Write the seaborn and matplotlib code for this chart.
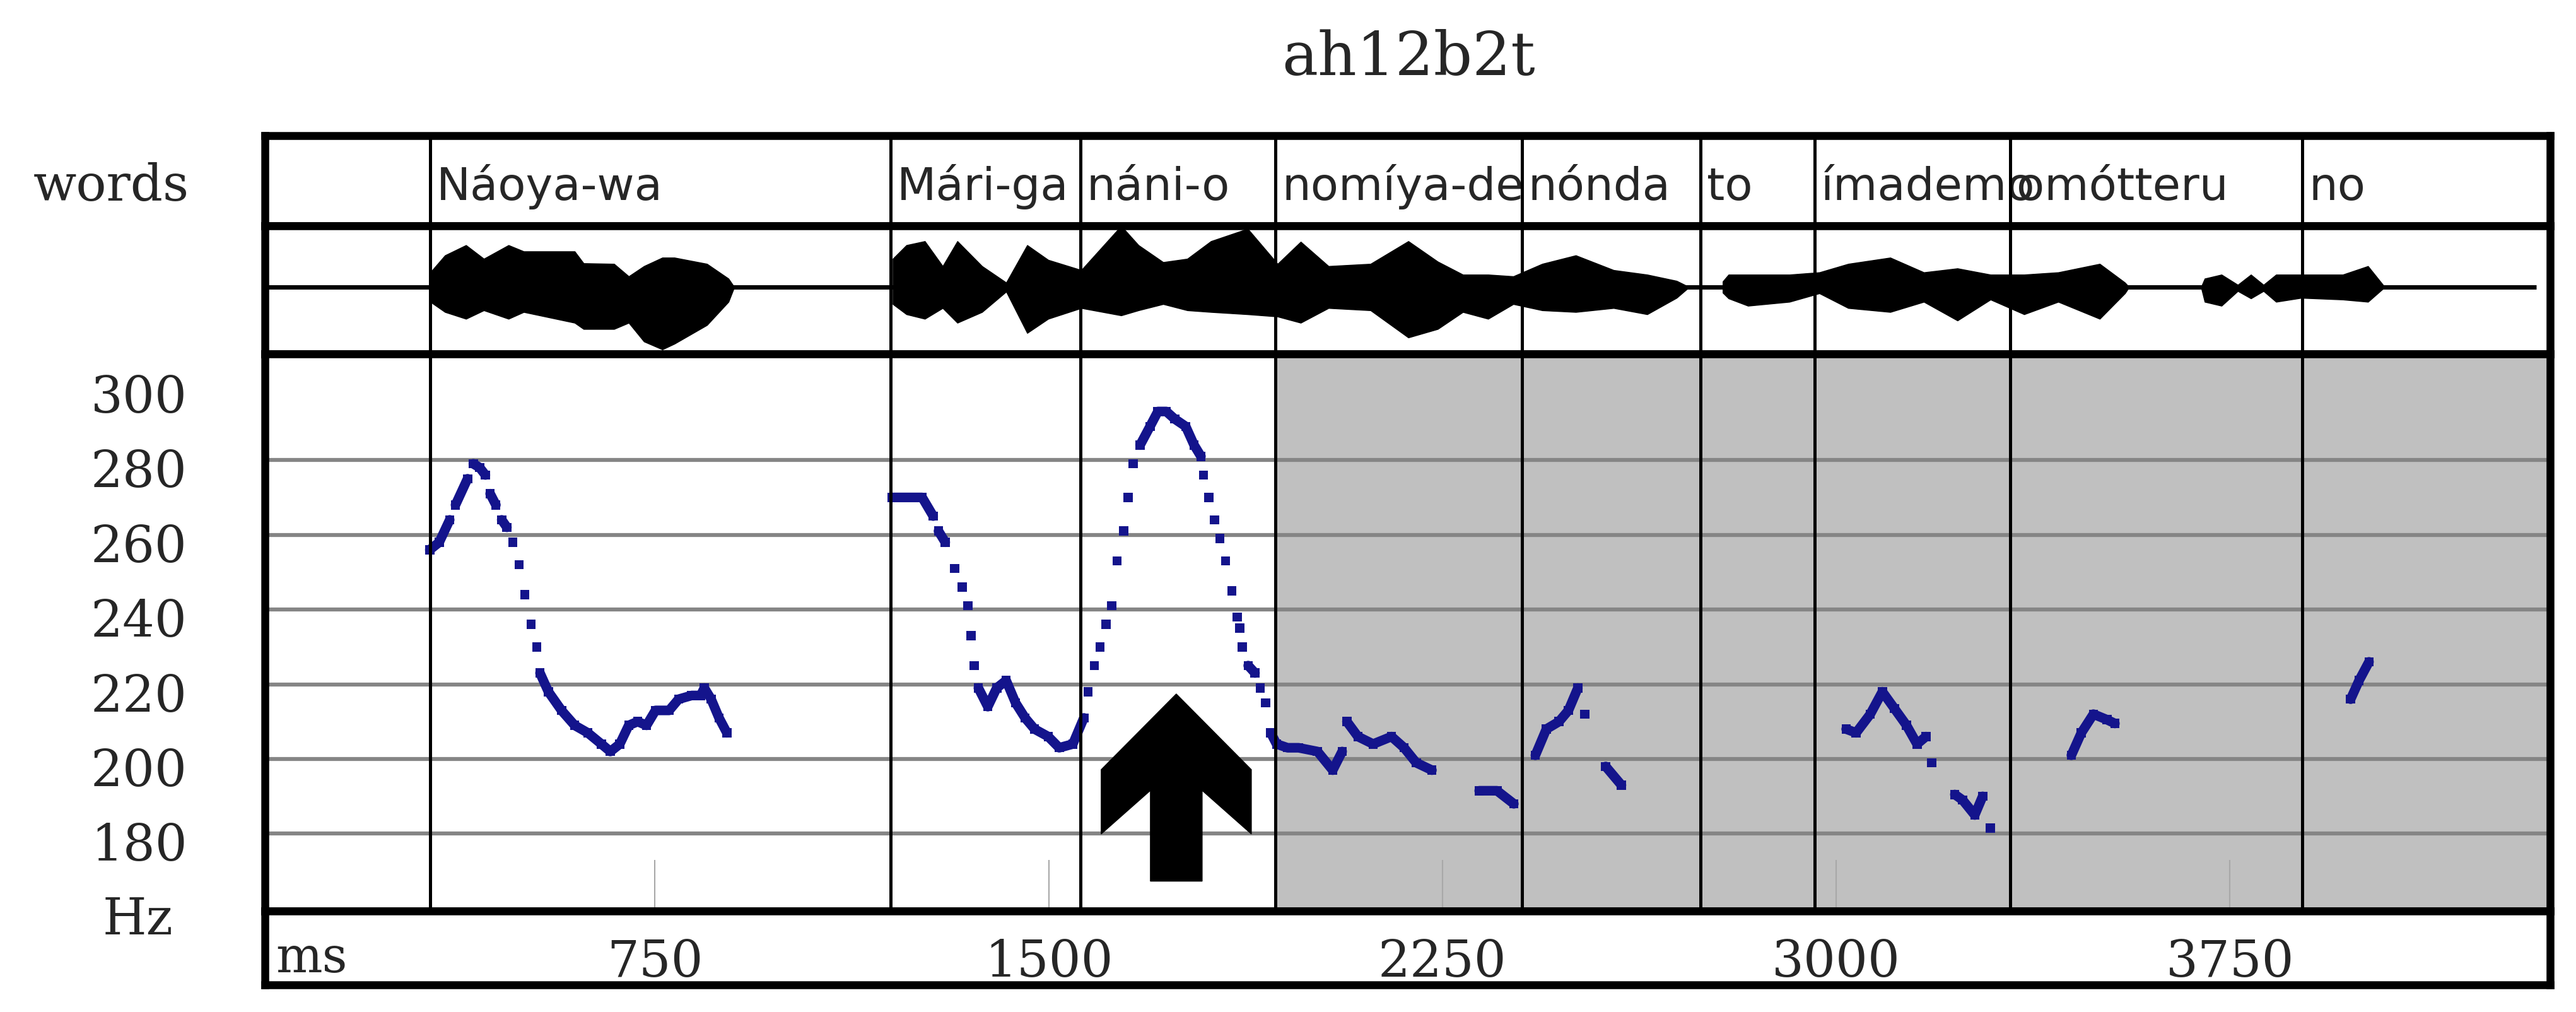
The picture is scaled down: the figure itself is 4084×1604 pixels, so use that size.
import pandas as pd
import seaborn as sns
import matplotlib.pyplot as plt
from matplotlib.patches import Polygon
from matplotlib.transforms import blended_transform_factory, offset_copy

# word segmentation (start of each word in ms)
words = ['Náoya-wa', 'Mári-ga', 'náni-o', 'nomíya-de', 'nónda', 'to', 'ímademo', 'omótteru', 'no']
word_starts = [322, 1199, 1560, 1932, 2401, 2741, 2959, 3331, 3888]
recording_end_ms = 4333

time_ticks = [750, 1500, 2250, 3000, 3750]
hz_ticks = [180, 200, 220, 240, 260, 280, 300]

# F0 tracks (ms, Hz)
f0_naoya_t = [321, 339, 359, 370, 393, 404, 416, 427, 436, 447, 458, 468, 479, 491, 502, 514, 525, 531, 547, 572,
              597, 622, 648, 665, 683, 700, 717, 734, 751, 777, 795, 820, 837, 844, 857, 872, 887]
f0_naoya_hz = [256, 258, 264, 268, 275, 279, 278, 276, 271, 268, 264, 262, 258, 252, 244, 236, 230, 223, 218, 213,
               209, 207, 204, 202, 204, 209, 210, 209, 213, 213, 216, 217, 217, 219, 216, 211, 207]

f0_mari_t = [1202, 1230, 1259, 1280, 1290, 1303, 1321, 1335, 1346, 1352, 1358, 1366, 1384, 1401, 1419, 1437, 1455,
             1473, 1499, 1520, 1546, 1567, 1575, 1587, 1598, 1609, 1620, 1630, 1643, 1651, 1661, 1674, 1693, 1708,
             1724, 1740, 1761, 1777, 1790, 1795, 1805, 1816, 1826, 1837, 1849, 1859, 1864, 1869, 1880, 1893, 1903,
             1913, 1923, 1934, 1955, 1976, 2012, 2041, 2059, 2068, 2089, 2118, 2153, 2177, 2200, 2230]
f0_mari_hz = [270, 270, 270, 265, 261, 258, 251, 246, 241, 233, 225, 219, 214, 219, 221, 215, 211,
              208, 206, 203, 204, 211, 218, 225, 230, 236, 241, 253, 261, 270, 279, 284, 289, 293,
              293, 291, 289, 284, 281, 276, 270, 264, 259, 253, 245, 238, 235, 230, 225, 223, 219,
              215, 207, 204, 203, 203, 202, 197, 202, 210, 206, 204, 206, 203, 199, 197]

f0_nomiya_t = [2320, 2354, 2386]
f0_nomiya_hz = [191.5, 191.5, 188]

f0_nonda_t = [2427, 2448, 2472, 2490, 2508, 2521, 2561, 2591]
f0_nonda_hz = [201, 208, 210, 213, 219, 212, 198, 193]

f0_imademo_t = [3019, 3038, 3065, 3088, 3111, 3134, 3154, 3171, 3182, 3226, 3241, 3264, 3279, 3294]
f0_imademo_hz = [208, 207, 212, 218, 213.5, 209, 204, 206, 199, 190.5, 189, 185, 190, 181.5]

f0_omotteru_t = [3448, 3467, 3490, 3516, 3531]
f0_omotteru_hz = [201, 207, 212, 210.5, 209.5]

f0_no_t = [3980, 3996, 4015]
f0_no_hz = [216, 221, 226]

# waveform envelope (ms, upper, lower), relative amplitude
wave_naoya_t = [322, 350, 390, 424, 471, 500, 597, 614, 672, 700, 729, 764, 787, 849, 890, 901]
wave_naoya_top = [0.26, 0.56, 0.74, 0.50, 0.74, 0.63, 0.63, 0.42, 0.41, 0.19, 0.37, 0.52, 0.52, 0.41, 0.15, 0.0]
wave_naoya_bot = [-0.26, -0.44, -0.56, -0.41, -0.56, -0.44, -0.63, -0.74, -0.74, -0.63, -0.96, -1.10, -1.00,
                  -0.67, -0.26, 0.0]

wave_mari_t = [1203, 1229, 1264, 1298, 1326, 1373, 1419, 1459, 1499, 1562, 1638, 1671, 1718, 1764, 1809, 1879,
               1936, 1980, 2033, 2113, 2185, 2241, 2289, 2337, 2385, 2440, 2504, 2576, 2640, 2696, 2720]
wave_mari_top = [0.50, 0.74, 0.81, 0.37, 0.81, 0.37, 0.08, 0.74, 0.48, 0.30, 1.08, 0.74, 0.44, 0.50, 0.81, 1.03,
                 0.41, 0.80, 0.37, 0.41, 0.81, 0.45, 0.22, 0.22, 0.19, 0.41, 0.56, 0.30, 0.22, 0.11, 0.0]
wave_mari_bot = [-0.30, -0.48, -0.56, -0.37, -0.63, -0.44, -0.08, -0.81, -0.56, -0.37, -0.50, -0.41, -0.30,
                 -0.41, -0.44, -0.48, -0.52, -0.63, -0.37, -0.41, -0.89, -0.74, -0.44, -0.56, -0.30, -0.41,
                 -0.44, -0.37, -0.48, -0.19, 0.0]

wave_to_t = [2784, 2795, 2832, 2911, 2968, 3023, 3103, 3167, 3231, 3294, 3358, 3423, 3502, 3550, 3558]
wave_to_top = [0.10, 0.22, 0.22, 0.22, 0.26, 0.41, 0.52, 0.26, 0.33, 0.22, 0.22, 0.26, 0.41, 0.08, 0.0]
wave_to_bot = [-0.10, -0.20, -0.33, -0.26, -0.11, -0.37, -0.44, -0.26, -0.59, -0.22, -0.48, -0.26, -0.56,
               -0.11, 0.0]

wave_no_t = [3695, 3702, 3734, 3765, 3790, 3814, 3838, 3886, 3965, 4013, 4045]
wave_no_top = [0.0, 0.15, 0.22, 0.04, 0.22, 0.04, 0.22, 0.22, 0.22, 0.37, 0.0]
wave_no_bot = [0.0, -0.26, -0.33, -0.07, -0.20, -0.07, -0.26, -0.19, -0.22, -0.26, 0.0]

# arrow marking the focus word (tip position)
arrow_ms = 1743
arrow_tip_hz = 217.4
arrow_base_hz = 167.3

sns.set_style('white')
plt.rcParams['font.family'] = ['DejaVu Serif']

W, H = 4084, 1604
fig = plt.figure(figsize=(W / 100, H / 100), dpi=100)


def px_axes(y_top, y_bot, x_left=420, x_right=4043):
    return fig.add_axes([x_left / W, 1 - y_bot / H, (x_right - x_left) / W, (y_bot - y_top) / H])


ax_words = px_axes(215, 358)
ax_wave = px_axes(358, 561)
ax_f0 = px_axes(561, 1444)
ax_time = px_axes(1444, 1561)

xlim = (7, 4360)
for ax in (ax_words, ax_wave, ax_f0, ax_time):
    ax.set_xlim(*xlim)
    ax.set_xticks([])
    ax.set_yticks([])
    ax.set_facecolor('white')
    for sp in ax.spines.values():
        sp.set_visible(True)
        sp.set_color('black')
        sp.set_linewidth(9)
        sp.set_zorder(10)

ax_words.set_ylim(0, 1)
ax_wave.set_ylim(-1.18, 1.08)
ax_f0.set_ylim(159.3, 308.4)
ax_time.set_ylim(0, 1)

# word boundaries
for ax in (ax_words, ax_wave, ax_f0):
    for t in word_starts:
        ax.axvline(t, color='black', lw=3.6, zorder=6)

word_tr = offset_copy(ax_words.transData, fig=fig, x=10, y=0, units='dots')
for w, t in zip(words, word_starts):
    ax_words.text(t, 0.287, w, transform=word_tr, family='DejaVu Sans', fontsize=52,
                  ha='left', va='baseline', zorder=5)

# waveform
ax_wave.hlines(0, xlim[0], recording_end_ms, color='black', lw=5, zorder=2)
for t, top, bot in [(wave_naoya_t, wave_naoya_top, wave_naoya_bot),
                    (wave_mari_t, wave_mari_top, wave_mari_bot),
                    (wave_to_t, wave_to_top, wave_to_bot),
                    (wave_no_t, wave_no_top, wave_no_bot)]:
    ax_wave.fill_between(t, top, bot, color='black', lw=1, zorder=3)

# F0 panel: grey region after the focus word
ax_f0.axvspan(word_starts[3], xlim[1], color='#c0c0c0', lw=0, zorder=0)
for y in hz_ticks[:-1]:
    ax_f0.axhline(y, color='#858585', lw=4.5, zorder=1)
ax_f0.vlines(time_ticks, 159.3, 173, color='#a8a8a8', lw=1.5, zorder=1)

tracks = [(f0_naoya_t, f0_naoya_hz), (f0_mari_t, f0_mari_hz), (f0_nomiya_t, f0_nomiya_hz),
          (f0_nonda_t, f0_nonda_hz), (f0_imademo_t, f0_imademo_hz), (f0_omotteru_t, f0_omotteru_hz),
          (f0_no_t, f0_no_hz)]
rows = []
for sid, (ts, hzs) in enumerate(tracks):
    run = 0
    for i in range(len(ts)):
        if i > 0:
            dt = ts[i] - ts[i - 1]
            # steep steps show up as separate dots, shallow ones merge into a line
            if dt > 40 or abs(hzs[i] - hzs[i - 1]) / dt > 0.34:
                run += 1
        rows.append((ts[i], hzs[i], f'{sid}-{run}'))
f0 = pd.DataFrame(rows, columns=['ms', 'hz', 'run'])

blue = '#14148c'
sns.lineplot(data=f0, x='ms', y='hz', units='run', estimator=None, sort=False,
             color=blue, linewidth=11, ax=ax_f0, legend=False, zorder=4)
sns.scatterplot(data=f0, x='ms', y='hz', marker='s', s=110, color=blue, edgecolor='none',
                ax=ax_f0, legend=False, zorder=5)
ax_f0.set_xlabel('')
ax_f0.set_ylabel('')
ax_f0.set_xlim(*xlim)
ax_f0.set_ylim(159.3, 308.4)
ax_f0.set_xticks([])
ax_f0.set_yticks([])

# arrow
hz_per_px = 20 / 118.5
ms_per_px = 1 / 0.8323
hw, sw = 119 * ms_per_px, 41 * ms_per_px
arrow_pts = [(arrow_ms, arrow_tip_hz),
             (arrow_ms - hw, arrow_tip_hz - 120 * hz_per_px),
             (arrow_ms - hw, arrow_tip_hz - 222 * hz_per_px),
             (arrow_ms - sw, arrow_tip_hz - 153 * hz_per_px),
             (arrow_ms - sw, arrow_base_hz),
             (arrow_ms + sw, arrow_base_hz),
             (arrow_ms + sw, arrow_tip_hz - 153 * hz_per_px),
             (arrow_ms + hw, arrow_tip_hz - 222 * hz_per_px),
             (arrow_ms + hw, arrow_tip_hz - 120 * hz_per_px)]
ax_f0.add_patch(Polygon(arrow_pts, closed=True, color='black', zorder=7))

# y labels (Hz)
ylab_tr = offset_copy(blended_transform_factory(ax_f0.transAxes, ax_f0.transData),
                      fig=fig, x=0, y=-43, units='dots')
for v in hz_ticks:
    ax_f0.text(-0.034, v, str(v), transform=ylab_tr, ha='right', va='baseline', fontsize=57.6)

# time axis
for t in time_ticks:
    ax_time.text(t, 0.111, str(t), ha='center', va='baseline', fontsize=57.6)
ax_time.text(0.0047, 0.17, 'ms', transform=ax_time.transAxes, ha='left', va='baseline', fontsize=56)

fig.text(0.0534, 0.0767, 'Hz', ha='center', va='baseline', fontsize=57.6)
fig.text(0.0431, 0.8017, 'words', ha='center', va='baseline', fontsize=57.6)
fig.text(0.5468, 0.9258, 'ah12b2t', ha='center', va='baseline', fontsize=69)

fig.savefig('out.png', dpi=100)
